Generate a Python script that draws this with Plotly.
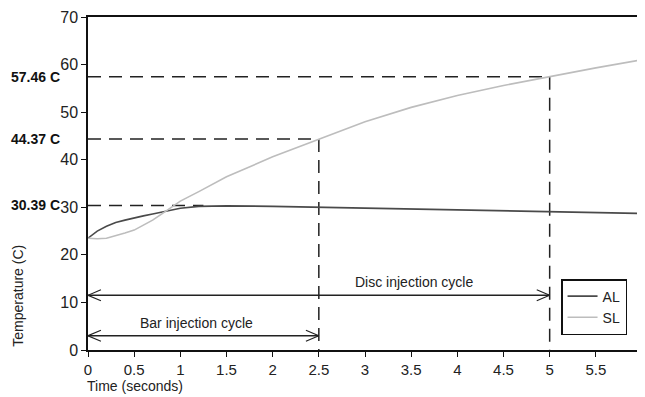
import plotly.graph_objects as go

# ---- data ----
time_s = [0, 0.1, 0.2, 0.3, 0.4, 0.5, 0.6, 0.7, 0.8, 0.9, 1.0, 1.2, 1.5, 2.0, 2.5, 3.0, 3.5, 4.0, 4.5, 5.0, 5.5, 6.0]
al_temp = [23.5, 25.0, 26.0, 26.8, 27.3, 27.8, 28.2, 28.6, 29.0, 29.5, 29.8, 30.2, 30.3, 30.2, 30.0, 29.8, 29.6, 29.4, 29.2, 29.0, 28.9, 28.7]
sl_temp = [23.5, 23.4, 23.5, 24.0, 24.6, 25.2, 26.2, 27.3, 28.6, 29.9, 31.3, 33.3, 36.4, 40.6, 44.37, 48.0, 51.0, 53.5, 55.6, 57.46, 59.3, 61.0]

ref_temps = [30.39, 44.37, 57.46]
ref_times = [1.25, 2.5, 5.0]
ref_vertical = [False, True, True]
ref_labels = ["30.39 C", "44.37 C", "57.46 C"]

cycle_names = ["Disc injection cycle", "Bar injection cycle"]
cycle_ends = [5.0, 2.5]
cycle_levels = [11.5, 3.0]

x_ticks = [0, 0.5, 1, 1.5, 2, 2.5, 3, 3.5, 4, 4.5, 5, 5.5, 6]
y_ticks = [0, 10, 20, 30, 40, 50, 60, 70]

FONT = "Liberation Sans, Arial, sans-serif"
DASH = "13px,8px"

fig = go.Figure()

# reference dashed lines
for t, v, vert in zip(ref_times, ref_temps, ref_vertical):
    fig.add_trace(go.Scatter(x=[0, t], y=[v, v], mode="lines",
                             line=dict(color="#222", width=1.5, dash=DASH),
                             showlegend=False, hoverinfo="skip"))
    if vert:
        fig.add_trace(go.Scatter(x=[t, t], y=[v, 0], mode="lines",
                                 line=dict(color="#222", width=1.5, dash=DASH),
                                 showlegend=False, hoverinfo="skip"))

# cycle arrows (double-headed, open chevrons)
hx, hy = 0.14, 1.15
for name, end, lvl in zip(cycle_names, cycle_ends, cycle_levels):
    fig.add_trace(go.Scatter(x=[0, end], y=[lvl, lvl], mode="lines",
                             line=dict(color="#222", width=1.5),
                             showlegend=False, hoverinfo="skip"))
    fig.add_trace(go.Scatter(x=[hx, 0, hx], y=[lvl + hy, lvl, lvl - hy], mode="lines",
                             line=dict(color="#222", width=1.2),
                             showlegend=False, hoverinfo="skip"))
    fig.add_trace(go.Scatter(x=[end - hx, end, end - hx], y=[lvl + hy, lvl, lvl - hy], mode="lines",
                             line=dict(color="#222", width=1.2),
                             showlegend=False, hoverinfo="skip"))

fig.add_annotation(x=3.53, y=cycle_levels[0] + 0.6, text=cycle_names[0], showarrow=False,
                   xref="x", yref="y", yanchor="bottom", font=dict(size=14, color="#222", family=FONT))
fig.add_annotation(x=1.18, y=cycle_levels[1] + 0.6, text=cycle_names[1], showarrow=False,
                   xref="x", yref="y", yanchor="bottom", font=dict(size=14, color="#222", family=FONT))

# data series
fig.add_trace(go.Scatter(x=time_s, y=al_temp, mode="lines", name="AL",
                         line=dict(color="#4a4a4a", width=1.6)))
fig.add_trace(go.Scatter(x=time_s, y=sl_temp, mode="lines", name="SL",
                         line=dict(color="#bdbdbd", width=1.6)))

# left value labels
for v, lab in zip(ref_temps, ref_labels):
    fig.add_annotation(x=-0.047, y=v, xref="paper", yref="y", text="<b>" + lab + "</b>",
                       showarrow=False, xanchor="right",
                       font=dict(size=14, color="#111", family=FONT))

# axis titles as annotations
fig.add_annotation(x=-0.127, y=0.162, xref="paper", yref="paper", text="Temperature (C)",
                   textangle=-90, showarrow=False, yanchor="middle", xanchor="center",
                   font=dict(size=14, color="#222", family=FONT))
fig.add_annotation(x=-0.005, y=-0.108, xref="paper", yref="paper", text="Time (seconds)",
                   showarrow=False, xanchor="left", yanchor="middle",
                   font=dict(size=14, color="#222", family=FONT))

# page body adds an 8px offset; figure is sized so it fits the 645x397 window exactly
fig.update_layout(
    width=637, height=389,
    margin=dict(l=80, r=3, t=9, b=47),
    paper_bgcolor="white", plot_bgcolor="white",
    font=dict(family=FONT, size=14, color="#222"),
    showlegend=True,
    legend=dict(x=0.973, y=0.045, xanchor="right", yanchor="bottom",
                bordercolor="#111", borderwidth=1.5, bgcolor="white",
                font=dict(size=14, color="#222"), traceorder="normal",
                itemwidth=30, tracegroupgap=2),
)
fig.update_xaxes(range=[0, 6], tickvals=x_ticks, ticktext=[f"{t:g}" for t in x_ticks],
                 automargin=False,
                 showgrid=False, zeroline=False, showline=True, linecolor="#111", linewidth=1.5,
                 mirror=True, ticks="outside", ticklen=5, tickcolor="#111",
                 tickfont=dict(size=15, color="#222"))
fig.update_yaxes(range=[0, 70], tickvals=y_ticks, automargin=False,
                 showgrid=False, zeroline=False, showline=True, linecolor="#111", linewidth=1.5,
                 mirror=True, ticks="outside", ticklen=5, tickcolor="#111",
                 tickfont=dict(size=16, color="#222"))

fig.write_html("out.html")
